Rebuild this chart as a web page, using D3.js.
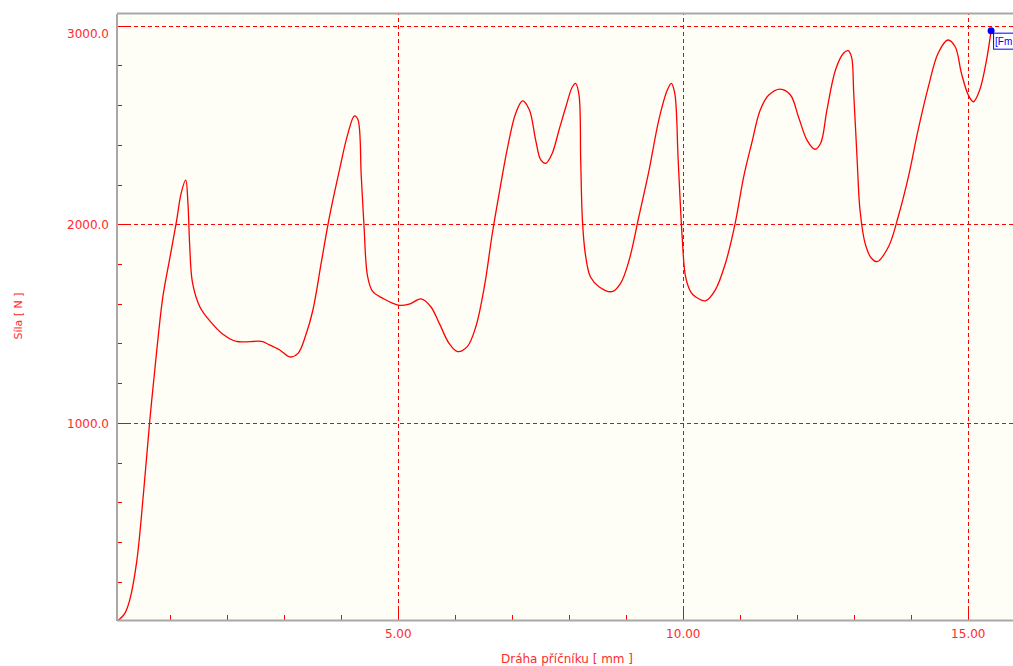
<!DOCTYPE html>
<html>
<head>
<meta charset="utf-8">
<script src="https://cdn.jsdelivr.net/npm/d3@7"></script>
<style>
  body { margin: 0; background: #fff; }
  svg { display: block; }
  text { font-family: "DejaVu Sans", sans-serif; }
</style>
</head>
<body>
<div id="chart"></div>
<script>
// travel of the crosshead [mm]
const travel = [0.065,0.2,0.29,0.41,0.53,0.64,0.76,0.87,0.99,1.11,1.19,1.27,1.31,1.34,1.39,1.52,1.69,1.93,2.16,2.6,2.74,2.92,3.1,3.24,3.38,3.5,3.65,3.79,3.97,4.11,4.23,4.29,4.35,4.4,4.46,4.55,4.73,5.0,5.19,5.4,5.57,5.72,5.89,6.04,6.21,6.36,6.51,6.65,6.77,6.92,7.06,7.18,7.3,7.41,7.5,7.59,7.7,7.82,7.94,8.05,8.11,8.17,8.2,8.23,8.28,8.37,8.52,8.75,8.9,9.05,9.22,9.4,9.57,9.72,9.79,9.85,9.91,9.98,10.04,10.13,10.21,10.39,10.56,10.74,10.91,11.06,11.2,11.35,11.5,11.7,11.88,12.02,12.17,12.31,12.41,12.52,12.67,12.81,12.89,12.95,12.99,13.05,13.1,13.19,13.3,13.4,13.6,13.77,13.95,14.12,14.3,14.47,14.64,14.77,14.88,15.0,15.09,15.2,15.32,15.4];
// force [N]
const force = [0,40,110,300,647,1011,1358,1636,1827,2017,2156,2222,2104,1896,1705,1584,1515,1445,1410,1410,1393,1367,1332,1350,1445,1566,1809,2035,2277,2450,2546,2529,2243,1983,1740,1662,1627,1593,1598,1624,1585,1501,1401,1359,1384,1484,1686,1955,2156,2391,2559,2621,2576,2424,2324,2307,2357,2475,2592,2690,2710,2652,2324,2022,1854,1736,1686,1661,1703,1820,2038,2273,2525,2676,2710,2660,2324,1938,1736,1660,1636,1615,1669,1804,2005,2240,2408,2576,2651,2681,2651,2542,2424,2378,2408,2576,2777,2861,2874,2844,2660,2324,2072,1904,1829,1812,1887,2038,2240,2475,2693,2861,2928,2894,2760,2651,2617,2676,2827,2975];

const xMajorTicks = [5, 10, 15];
const xMinorTicks = [1, 2, 3, 4, 6, 7, 8, 9, 11, 12, 13, 14];
const yMajorTicks = [1000, 2000, 3000];
const yMinorTicks = [200, 400, 600, 800, 1200, 1400, 1600, 1800, 2200, 2400, 2600, 2800];

const xTitle = 'Dráha příčníku [ mm ]';
const yTitle = 'Síla [ N ]';
const markerLabel = '[Fm';

const config = {
  width: 1013,
  height: 666,
  left: 117,
  top: 14,
  right: 1015,
  bottom: 620,
  bg: '#fefef6',
  red: '#ff0000',
  textRed: '#ff2a2a',
  axisGray: '#a8a8a8',
  blue: '#0000ff'
};

const svg = d3.select('#chart')
  .append('svg')
  .attr('width', config.width)
  .attr('height', config.height);

const scaleX = d3.scaleLinear()
  .domain([0.065, 15.8])
  .range([config.left, config.left + (15.8 - 0.065) * 57.0]);

const scaleY = d3.scaleLinear()
  .domain([0, 3060])
  .range([621.5, 621.5 - 3060 * 0.1986]);

svg.append('defs').append('clipPath')
  .attr('id', 'plot-clip')
  .append('rect')
  .attr('x', config.left)
  .attr('y', config.top)
  .attr('width', config.right - config.left)
  .attr('height', config.bottom - config.top);

// plot background
svg.append('rect')
  .attr('x', config.left)
  .attr('y', config.top)
  .attr('width', config.right - config.left)
  .attr('height', config.bottom - config.top)
  .attr('fill', config.bg);

// dashed grid
svg.selectAll('.grid-x')
  .data(xMajorTicks)
  .enter()
  .append('line')
  .attr('x1', d => Math.round(scaleX(d)) + 0.5)
  .attr('x2', d => Math.round(scaleX(d)) + 0.5)
  .attr('y1', config.bottom - 10)
  .attr('y2', config.top)
  .attr('stroke', config.red)
  .attr('stroke-dasharray', '4,3');

svg.selectAll('.grid-y')
  .data(yMajorTicks)
  .enter()
  .append('line')
  .attr('x1', config.left + 10)
  .attr('x2', config.right)
  .attr('y1', d => Math.round(scaleY(d)) + 0.5)
  .attr('y2', d => Math.round(scaleY(d)) + 0.5)
  .attr('stroke', config.red)
  .attr('stroke-dasharray', '4,3');

// ticks (inside the plot)
svg.selectAll('.tick-x')
  .data(xMajorTicks.map(v => [v, 10]).concat(xMinorTicks.map(v => [v, 5])))
  .enter()
  .append('line')
  .attr('x1', d => Math.round(scaleX(d[0])) + 0.5)
  .attr('x2', d => Math.round(scaleX(d[0])) + 0.5)
  .attr('y1', config.bottom)
  .attr('y2', d => config.bottom - d[1])
  .attr('stroke', config.red);

svg.selectAll('.tick-y')
  .data(yMajorTicks.map(v => [v, 10]).concat(yMinorTicks.map(v => [v, 5])))
  .enter()
  .append('line')
  .attr('x1', config.left)
  .attr('x2', d => config.left + d[1])
  .attr('y1', d => Math.round(scaleY(d[0])) + 0.5)
  .attr('y2', d => Math.round(scaleY(d[0])) + 0.5)
  .attr('stroke', config.red);

// the curve
const line = d3.line()
  .x((d, i) => scaleX(travel[i]))
  .y(d => scaleY(d))
  .curve(d3.curveCatmullRom.alpha(0.5));

svg.append('path')
  .datum(force)
  .attr('clip-path', 'url(#plot-clip)')
  .attr('d', line)
  .attr('fill', 'none')
  .attr('stroke', config.red)
  .attr('stroke-width', 1.3);

// axis frame
svg.append('line')
  .attr('x1', config.left).attr('x2', config.left)
  .attr('y1', config.top).attr('y2', config.bottom + 1)
  .attr('stroke', config.axisGray).attr('stroke-width', 2);
svg.append('line')
  .attr('x1', config.left).attr('x2', config.right)
  .attr('y1', config.bottom + 0.5).attr('y2', config.bottom + 0.5)
  .attr('stroke', config.axisGray).attr('stroke-width', 2);
svg.append('line')
  .attr('x1', config.left).attr('x2', config.right)
  .attr('y1', config.top - 0.5).attr('y2', config.top - 0.5)
  .attr('stroke', config.axisGray).attr('stroke-width', 2);

// tick labels
svg.selectAll('.label-x')
  .data(xMajorTicks)
  .enter()
  .append('text')
  .attr('x', d => scaleX(d))
  .attr('y', 638)
  .attr('text-anchor', 'middle')
  .style('font-size', '12px')
  .style('fill', config.textRed)
  .text(d => d.toFixed(2));

svg.selectAll('.label-y')
  .data(yMajorTicks)
  .enter()
  .append('text')
  .attr('x', 109)
  .attr('y', d => d === 3000 ? scaleY(d) + 12 : scaleY(d) + 5)
  .attr('text-anchor', 'end')
  .style('font-size', '12px')
  .style('fill', config.textRed)
  .text(d => d.toFixed(1));

// axis titles
svg.append('text')
  .attr('x', 567)
  .attr('y', 663)
  .attr('text-anchor', 'middle')
  .style('font-size', '12px')
  .style('fill', config.textRed)
  .text(xTitle);

svg.append('text')
  .attr('transform', 'translate(22, 316) rotate(-90)')
  .attr('text-anchor', 'middle')
  .style('font-size', '11px')
  .style('fill', config.textRed)
  .text(yTitle);

// max marker at the last point
const lastX = scaleX(travel[travel.length - 1]);
const lastY = scaleY(force[force.length - 1]);

svg.append('rect')
  .attr('x', lastX + 2.5)
  .attr('y', lastY + 2.5)
  .attr('width', 60)
  .attr('height', 16)
  .attr('fill', '#fff')
  .attr('stroke', config.blue);

svg.append('text')
  .attr('x', lastX + 4)
  .attr('y', lastY + 14.5)
  .style('font-family', '"Liberation Sans", sans-serif')
  .style('font-size', '10px')
  .style('fill', config.blue)
  .text(markerLabel);

svg.append('circle')
  .attr('cx', lastX)
  .attr('cy', lastY)
  .attr('r', 3.5)
  .attr('fill', config.blue);
</script>
</body>
</html>
